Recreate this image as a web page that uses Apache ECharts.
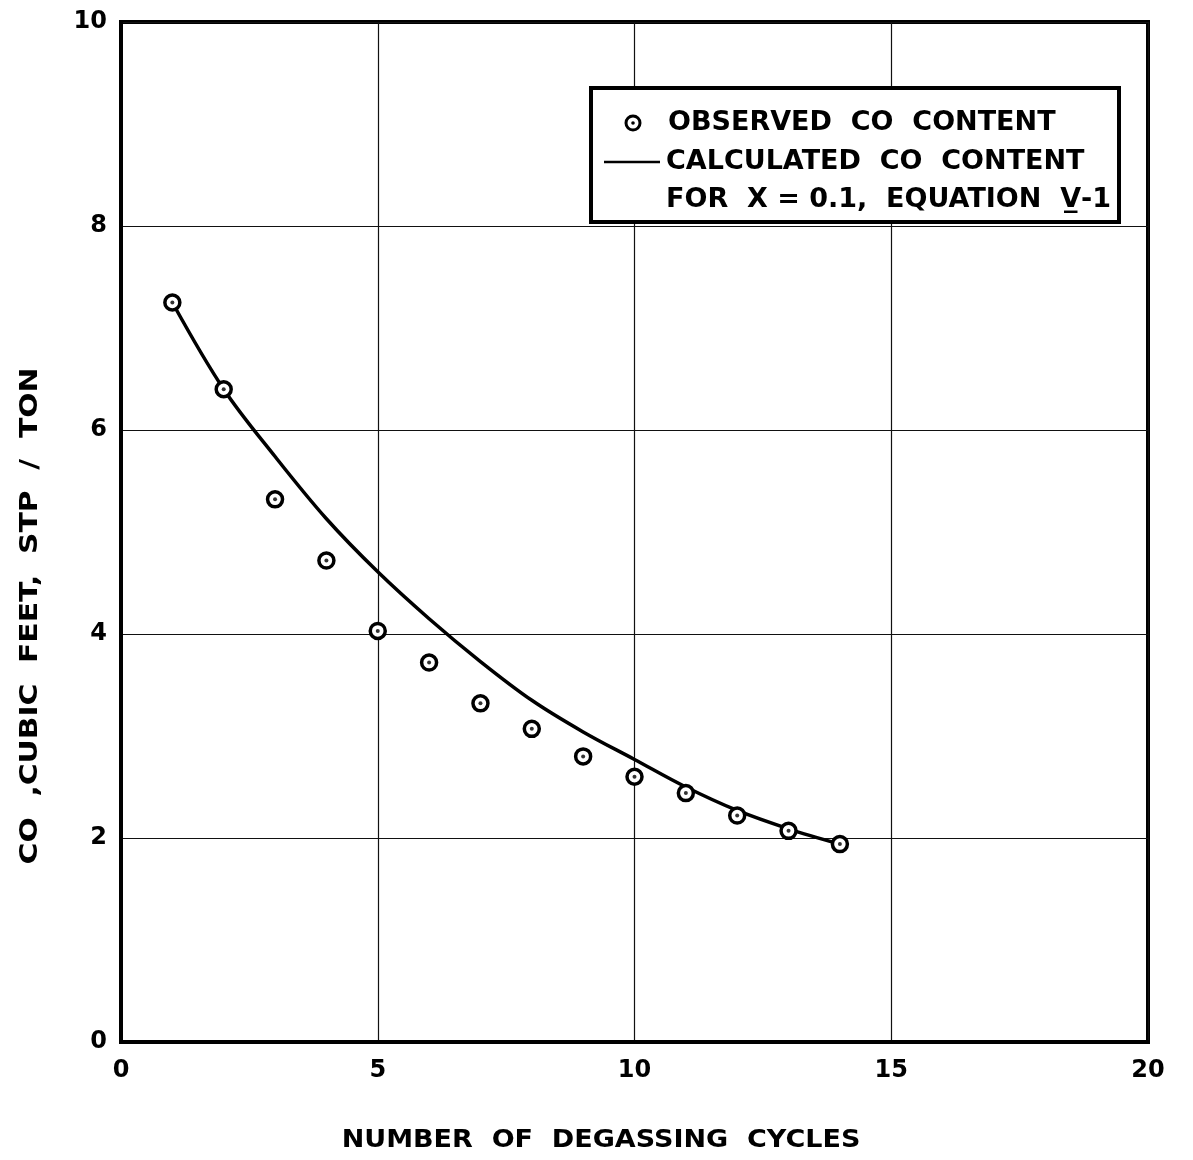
<!DOCTYPE html>
<html>
<head>
<meta charset="utf-8">
<script src="https://cdn.jsdelivr.net/npm/echarts@6/dist/echarts.min.js"></script>
<style>
html,body{margin:0;padding:0;background:#fff;}
#chart{width:1193px;height:1160px;}
</style>
</head>
<body>
<div id="chart"></div>
<script>
// Observed CO content (cycles, cubic feet STP / ton)
const observedCycles = [1, 2, 3, 4, 5, 6, 7, 8, 9, 10, 11, 12, 13, 14];
const observedCO = [7.25, 6.40, 5.32, 4.72, 4.03, 3.72, 3.32, 3.07, 2.80, 2.60, 2.44, 2.22, 2.07, 1.94];
// Calculated CO content curve (X = 0.1, Equation V-1)
const curveCycles = [1, 2, 3, 4, 5, 6, 7, 8, 9, 10, 11, 12, 13, 14];
const curveCO = [7.25, 6.40, 5.74, 5.13, 4.61, 4.15, 3.73, 3.35, 3.04, 2.77, 2.50, 2.27, 2.09, 1.94];
// Axis ticks
const xTicks = [0, 5, 10, 15, 20];
const yTicks = [0, 2, 4, 6, 8, 10];

const FONT = '"DejaVu Sans", sans-serif';
const chart = echarts.init(document.getElementById('chart'), null, {renderer: 'canvas'});

const obsData = observedCycles.map((c, i) => [c, observedCO[i]]);
const curveData = curveCycles.map((c, i) => [c, curveCO[i]]);

chart.setOption({
  backgroundColor: '#ffffff',
  animation: false,
  grid: {left: 121, top: 22, right: 45, bottom: 118, show: true, borderColor: '#000', borderWidth: 4, backgroundColor: 'transparent'},
  xAxis: {
    type: 'value', min: xTicks[0], max: xTicks[xTicks.length - 1], interval: 5,
    axisLine: {show: true, lineStyle: {color: '#000', width: 4}},
    axisTick: {show: false},
    splitLine: {show: true, lineStyle: {color: '#111', width: 1.2}},
    axisLabel: {color: '#000', fontFamily: FONT, fontWeight: 'bold', fontSize: 24, margin: 17}
  },
  yAxis: {
    type: 'value', min: yTicks[0], max: yTicks[yTicks.length - 1], interval: 2,
    axisLine: {show: true, lineStyle: {color: '#000', width: 4}},
    axisTick: {show: false},
    splitLine: {show: true, lineStyle: {color: '#111', width: 1.2}},
    axisLabel: {color: '#000', fontFamily: FONT, fontWeight: 'bold', fontSize: 24, margin: 14}
  },
  series: [
    {
      name: 'CALCULATED CO CONTENT', type: 'line', data: curveData, smooth: 0.35,
      symbol: 'none', lineStyle: {color: '#000', width: 3.5}, z: 2
    },
    {
      name: 'OBSERVED CO CONTENT', type: 'scatter', data: obsData, symbol: 'circle', symbolSize: 15,
      itemStyle: {color: '#fff', borderColor: '#000', borderWidth: 3.5, opacity: 1}, z: 3
    },
    {
      name: 'OBSERVED CO CONTENT dot', type: 'scatter', data: obsData, symbol: 'circle', symbolSize: 4,
      itemStyle: {color: '#000'}, z: 4
    }
  ],
  graphic: [
    // Legend box
    {type: 'rect', shape: {x: 591, y: 88, width: 528, height: 134}, style: {fill: '#fff', stroke: '#000', lineWidth: 4}, z: 10},
    {type: 'circle', shape: {cx: 633, cy: 123, r: 7}, style: {fill: '#fff', stroke: '#000', lineWidth: 3}, z: 11},
    {type: 'circle', shape: {cx: 633, cy: 123, r: 1.8}, style: {fill: '#000'}, z: 11},
    {type: 'line', shape: {x1: 604, y1: 162, x2: 660, y2: 162}, style: {stroke: '#000', lineWidth: 2.5}, z: 11},
    {type: 'text', x: 668, y: 123, z: 11, style: {text: 'OBSERVED  CO  CONTENT', font: 'bold 27px ' + FONT, fill: '#000', textVerticalAlign: 'middle', verticalAlign: 'middle'}},
    {type: 'text', x: 666, y: 162, z: 11, style: {text: 'CALCULATED  CO  CONTENT', font: 'bold 27px ' + FONT, fill: '#000', textVerticalAlign: 'middle', verticalAlign: 'middle'}},
    {type: 'text', x: 666, y: 200, z: 11, style: {text: 'FOR  X = 0.1,  EQUATION  V\u0332-1', font: 'bold 27px ' + FONT, fill: '#000', textVerticalAlign: 'middle', verticalAlign: 'middle'}},
    // Axis titles
    {type: 'text', x: 601, y: 1140, z: 11, scaleX: 1.08, style: {text: 'NUMBER  OF  DEGASSING  CYCLES', font: 'bold 25px ' + FONT, fill: '#000', align: 'center', verticalAlign: 'middle', textAlign: 'center', textVerticalAlign: 'middle'}},
    {type: 'text', x: 30, y: 616, rotation: Math.PI / 2, scaleX: 1.19, z: 11, style: {text: 'CO  ,CUBIC  FEET,  STP  /  TON', font: 'bold 25px ' + FONT, fill: '#000', align: 'center', verticalAlign: 'middle', textAlign: 'center', textVerticalAlign: 'middle'}}
  ]
});
</script>
</body>
</html>
